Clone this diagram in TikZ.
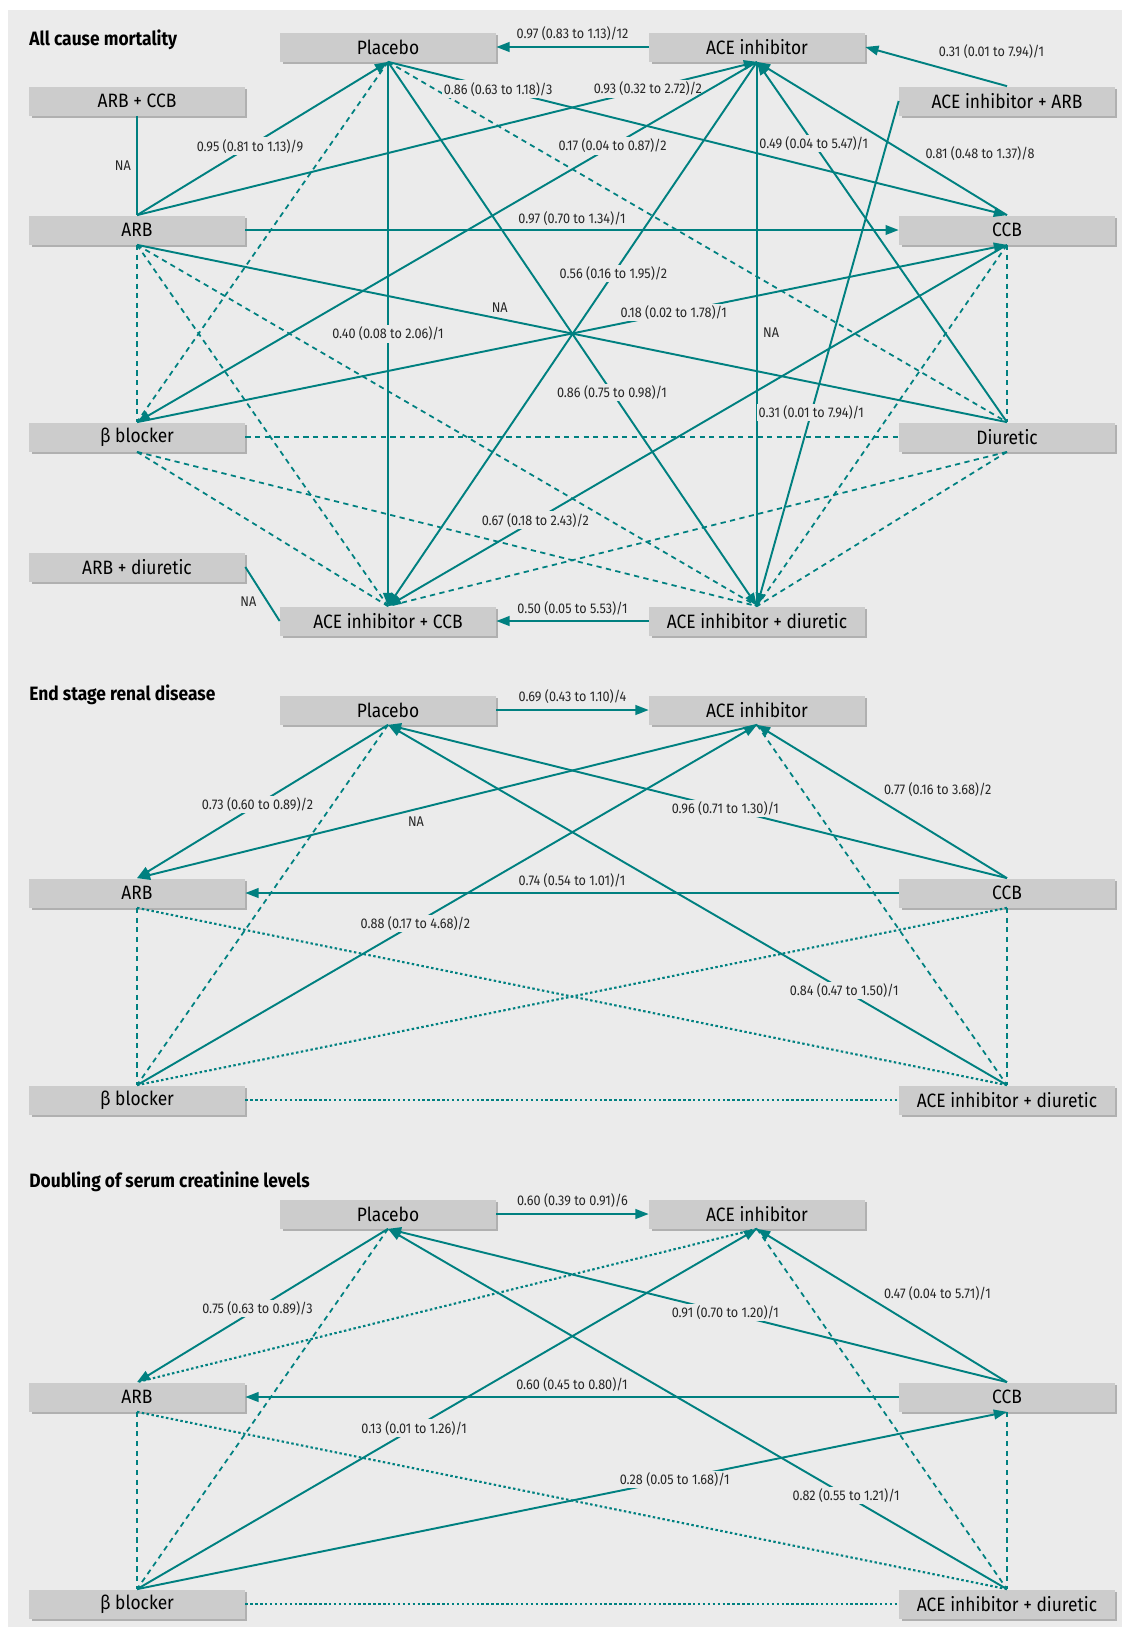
\documentclass[tikz,border=0pt]{standalone}
\usepackage{fontspec}
\setmainfont[FakeStretch=0.9]{Fira Sans}
\usetikzlibrary{arrows.meta,shadows}
\definecolor{teal1}{RGB}{0,128,128}
\definecolor{bgc}{RGB}{235,235,235}
\definecolor{boxc}{RGB}{204,204,204}
\definecolor{shadc}{RGB}{176,176,176}
\tikzset{
	drug/.style={fill=boxc, minimum width=4.32cm, minimum height=0.58cm, inner sep=0pt,
		font=\fontsize{11}{12}\selectfont,
		drop shadow={shadow xshift=0.05cm, shadow yshift=-0.05cm, fill=shadc, opacity=1}},
	link/.style={teal1, line width=1.1pt, ->},
	nolink/.style={teal1, line width=1.1pt},
	indirect/.style={teal1, line width=1pt, dash pattern=on 3pt off 2.5pt},
	dotty/.style={teal1, line width=1.2pt, dash pattern=on 1.4pt off 1.4pt},
	labx/.style={inner sep=1pt, text=black!85, font=\fontsize{8}{9}\selectfont},
	lab/.style={labx, fill=bgc},
	heading/.style={anchor=west, inner sep=0pt, font=\bfseries\fontsize{11}{12}\selectfont}
}
\begin{document}
\begin{tikzpicture}[x=0.02cm, y=-0.02cm, line join=round, >={Triangle[length=7.5pt,width=5.5pt]}]
	\useasboundingbox (0,0) rectangle (1122,1627);
	\fill[bgc] (8,10) rectangle (1122,1627);
	
	% all cause mortality
	\node[heading] (t1) at (29,40) {All cause mortality};
	\node[drug] (pla) at (388,47) {Placebo};
	\node[drug] (ace) at (757,47) {ACE inhibitor};
	\node[drug] (arbccb) at (137,101) {ARB + CCB};
	\node[drug] (acearb) at (1007,101) {ACE inhibitor + ARB};
	\node[drug] (arb) at (137,230) {ARB};
	\node[drug] (ccb) at (1007,230) {CCB};
	\node[drug] (bb) at (137,437) {β blocker};
	\node[drug] (diu) at (1007,437) {Diuretic};
	\node[drug] (arbdiu) at (137,567) {ARB + diuretic};
	\node[drug] (aceccb) at (388,621) {ACE inhibitor + CCB};
	\node[drug] (acediu) at (757,621) {ACE inhibitor + diuretic};
	
	\foreach \s/\e in {pla.south/bb.north, pla.south/diu.north, arb.south/bb.north,
		arb.south/aceccb.north, arb.south/acediu.north, bb.east/diu.west,
		bb.south/aceccb.north, bb.south/acediu.north, ccb.south/diu.north,
		ccb.south/acediu.north, diu.south/aceccb.north, diu.south/acediu.north}
	\draw[indirect] (\s) -- (\e);
	
	\draw[nolink] (arbccb.south) -- node[labx,left=2pt] {NA} (arb.north);
	\draw[nolink] (ace.south) -- node[labx,pos=0.497,right=2pt] {NA} (acediu.north);
	\draw[nolink] (arb.south) -- node[labx,pos=0.417,above=2pt] {NA} (diu.north);
	\draw[nolink] (arbdiu.east) -- node[labx,midway,anchor=north east,xshift=-2pt] {NA} (aceccb.west);
	
	\draw[link] (ace.west) -- node[labx,above=2pt] {0.97 (0.83 to 1.13)/12} (pla.east);
	\draw[link] (acearb.north) -- node[labx,pos=0.5,anchor=south west,yshift=3pt] {0.31 (0.01 to 7.94)/1} (ace.east);
	\draw[link] (ccb.north) -- node[labx,pos=0.4,right=9pt] {0.81 (0.48 to 1.37)/8} (ace.south);
	\draw[link] (arb.east) -- node[labx,above=1pt] {0.97 (0.70 to 1.34)/1} (ccb.west);
	\draw[link] (acediu.west) -- node[labx,above=1.5pt] {0.50 (0.05 to 5.53)/1} (aceccb.east);
	\foreach \s/\e/\p/\t in {
		arb.north/pla.south/0.45/{0.95 (0.81 to 1.13)/9},
		arb.north/ace.south/0.824/{0.93 (0.32 to 2.72)/2},
		pla.south/ccb.north/0.178/{0.86 (0.63 to 1.18)/3},
		pla.south/aceccb.north/0.5/{0.40 (0.08 to 2.06)/1},
		pla.south/acediu.north/0.607/{0.86 (0.75 to 0.98)/1},
		bb.north/ccb.south/0.617/{0.18 (0.02 to 1.78)/1},
		ace.south/bb.north/0.233/{0.17 (0.04 to 0.87)/2},
		ace.south/aceccb.north/0.389/{0.56 (0.16 to 1.95)/2},
		ccb.south/aceccb.north/0.762/{0.67 (0.18 to 2.43)/2},
		diu.north/ace.south/0.773/{0.49 (0.04 to 5.47)/1},
		acearb.west/acediu.north/0.617/{0.31 (0.01 to 7.94)/1}}
	\draw[link] (\s) -- node[lab,pos=\p] {\t} (\e);
	
	% end stage renal disease
	\node[heading] (t2) at (29,695) {End stage renal disease};
	\node[drug] (pla2) at (388,710) {Placebo};
	\node[drug] (ace2) at (757,710) {ACE inhibitor};
	\node[drug] (arb2) at (137,893) {ARB};
	\node[drug] (ccb2) at (1007,893) {CCB};
	\node[drug] (bb2) at (137,1100) {β blocker};
	\node[drug] (acediu2) at (1007,1100) {ACE inhibitor + diuretic};
	
	\foreach \s/\e in {pla2.south/bb2.north, ace2.south/acediu2.north,
		arb2.south/bb2.north, ccb2.south/acediu2.north}
	\draw[indirect] (\s) -- (\e);
	\foreach \s/\e in {arb2.south/acediu2.north, ccb2.south/bb2.north, bb2.east/acediu2.west}
	\draw[dotty] (\s) -- (\e);
	
	\draw[link] (pla2.east) -- node[labx,above=2pt] {0.69 (0.43 to 1.10)/4} (ace2.west);
	\draw[link] (ccb2.west) -- node[labx,above=1.5pt] {0.74 (0.54 to 1.01)/1} (arb2.east);
	\draw[link] (ace2.south) -- node[labx,pos=0.55,below=3pt] {NA} (arb2.north);
	\draw[link] (ccb2.north) -- node[labx,pos=0.58,right=11pt] {0.77 (0.16 to 3.68)/2} (ace2.south);
	\foreach \s/\e/\p/\t in {
		pla2.south/arb2.north/0.52/{0.73 (0.60 to 0.89)/2},
		ccb2.north/pla2.south/0.455/{0.96 (0.71 to 1.30)/1},
		bb2.north/ace2.south/0.449/{0.88 (0.17 to 4.68)/2},
		acediu2.north/pla2.south/0.263/{0.84 (0.47 to 1.50)/1}}
	\draw[link] (\s) -- node[lab,pos=\p] {\t} (\e);
	
	% doubling of serum creatinine levels
	\node[heading] (t3) at (29,1182) {Doubling of serum creatinine levels};
	\node[drug] (pla3) at (388,1214) {Placebo};
	\node[drug] (ace3) at (757,1214) {ACE inhibitor};
	\node[drug] (arb3) at (137,1397) {ARB};
	\node[drug] (ccb3) at (1007,1397) {CCB};
	\node[drug] (bb3) at (137,1604) {β blocker};
	\node[drug] (acediu3) at (1007,1604) {ACE inhibitor + diuretic};
	
	\foreach \s/\e in {pla3.south/bb3.north, ace3.south/acediu3.north,
		arb3.south/bb3.north, ccb3.south/acediu3.north}
	\draw[indirect] (\s) -- (\e);
	\foreach \s/\e in {ace3.south/arb3.north, arb3.south/acediu3.north, bb3.east/acediu3.west}
	\draw[dotty] (\s) -- (\e);
	
	\draw[link] (pla3.east) -- node[labx,above=2pt] {0.60 (0.39 to 0.91)/6} (ace3.west);
	\draw[link] (ccb3.west) -- node[labx,above=1.5pt] {0.60 (0.45 to 0.80)/1} (arb3.east);
	\draw[link] (ccb3.north) -- node[labx,pos=0.58,right=11pt] {0.47 (0.04 to 5.71)/1} (ace3.south);
	\foreach \s/\e/\p/\t in {
		pla3.south/arb3.north/0.52/{0.75 (0.63 to 0.89)/3},
		ccb3.north/pla3.south/0.455/{0.91 (0.70 to 1.20)/1},
		bb3.north/ace3.south/0.447/{0.13 (0.01 to 1.26)/1},
		bb3.north/ccb3.south/0.618/{0.28 (0.05 to 1.68)/1},
		acediu3.north/pla3.south/0.26/{0.82 (0.55 to 1.21)/1}}
	\draw[link] (\s) -- node[lab,pos=\p] {\t} (\e);
\end{tikzpicture}
\end{document}
